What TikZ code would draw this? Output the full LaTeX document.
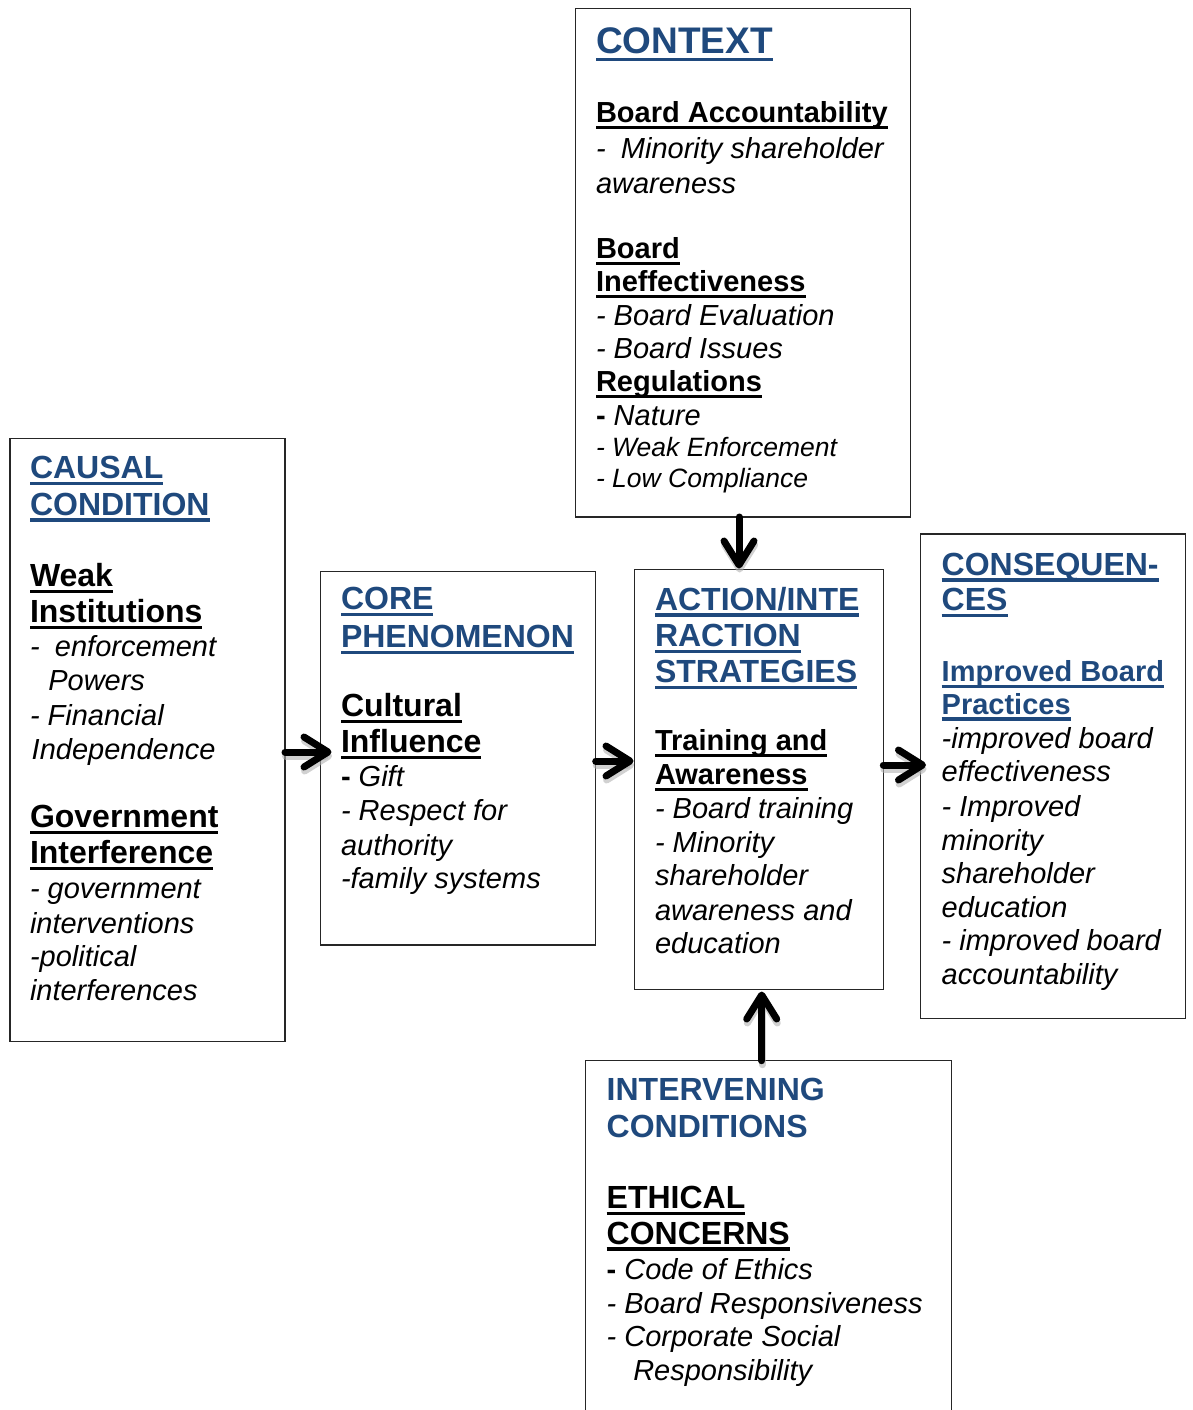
\documentclass[tikz,border=0pt]{standalone}
\usepackage{fontspec}
\setmainfont{Liberation Sans}
\usetikzlibrary{arrows.meta}
\definecolor{hblue}{HTML}{1F497D}

% heavy underline drawn as a rule under the whole word group
\newcommand\hul[2][6.5pt]{\setbox0=\hbox{#2}\rlap{\rule[-#1]{\wd0}{3.2pt}}\box0}
% headings and body styles
\newcommand\Ttl[1]{\fontsize{32}{36}\selectfont\bfseries\color{hblue}\hul{#1}}
\newcommand\TtlPlain[1]{\fontsize{32}{36}\selectfont\bfseries\color{hblue}#1}
\newcommand\Sub[2]{\fontsize{#1}{#1}\selectfont\bfseries\hul{#2}}
\newcommand\BSub[2]{\fontsize{#1}{#1}\selectfont\bfseries\color{hblue}\hul{#2}}
\newcommand\Itx[2]{\fontsize{#1}{#1}\selectfont\itshape #2}
\newcommand\Bdash{{\upshape\bfseries -}}

\newcounter{lnc}
\newcommand\Line[3]{\stepcounter{lnc}\node[txt] (line\arabic{lnc}) at (#1,#2) {#3};}

\tikzset{
  txt/.style={anchor=base west, inner sep=0pt, outer sep=0pt},
  box/.style={draw=black!85, line width=1.4pt, fill=white, rectangle,
              anchor=north west, inner sep=0pt, outer sep=0pt},
  conn/.style={line width=7pt, line cap=round,
               -{Straight Barb[length=24pt, width=30pt, round]}},
  connshadow/.style={conn, draw=gray!60, opacity=0.6,
                     transform canvas={shift={(0.6pt,-4pt)}}},
}

\begin{document}
\begin{tikzpicture}[x=1pt, y=-1pt]
\useasboundingbox (0,0) rectangle (1192,1410);
\clip (0,0) rectangle (1192,1410);

% ---- boxes ----
\node[box, minimum width=275pt, minimum height=603pt] (causal) at (10,438.5) {};
\node[box, minimum width=275pt, minimum height=373.3pt] (core) at (320.7,571.7) {};
\node[box, minimum width=335pt, minimum height=508.5pt] (context) at (575.7,8.5) {};
\node[box, minimum width=249pt, minimum height=420pt] (action) at (634.3,569.3) {};
\node[box, minimum width=264.6pt, minimum height=484.3pt] (conseq) at (920.7,534) {};
\node[box, minimum width=366pt, minimum height=370pt] (interv) at (585.7,1060.7) {};

% ---- causal condition ----
\Line{30}{478.3}{\Ttl{CAUSAL}}
\Line{30}{515}{\Ttl{CONDITION}}
\Line{30}{586.7}{\Sub{32}{Weak}}
\Line{30}{622.7}{\Sub{32}{Institutions}}
\Line{30}{656.7}{\Itx{29}{-\hspace{0.25em} enforcement}}
\Line{48.3}{690}{\Itx{29}{Powers}}
\Line{30}{725}{\Itx{29}{- Financial}}
\Line{31.7}{759}{\Itx{29}{Independence}}
\Line{30}{827.3}{\Sub{32}{Government}}
\Line{30}{863.3}{\Sub{32}{Interference}}
\Line{30}{898.3}{\Itx{29}{- government}}
\Line{30}{933.3}{\Itx{29}{interventions}}
\Line{30}{966.7}{\Itx{29}{-political}}
\Line{30}{1000}{\Itx{29}{interferences}}

% ---- core phenomenon ----
\Line{341}{609.3}{\Ttl{CORE}}
\Line{341}{647.3}{\Ttl{PHENOMENON}}
\Line{341}{716.7}{\Sub{32}{Cultural}}
\Line{341}{752.7}{\Sub{32}{Influence}}
\Line{341}{786.7}{\Itx{29}{\Bdash{} Gift}}
\Line{341}{820.7}{\Itx{29}{- Respect for}}
\Line{341}{855}{\Itx{29}{authority}}
\Line{341}{888.3}{\Itx{29}{-family systems}}

% ---- context ----
\Line{596}{54}{\fontsize{37}{42}\selectfont\bfseries\color{hblue}\hul[7.5pt]{CONTEXT}}
\Line{596}{122.3}{\Sub{29}{Board Accountability}}
\Line{596}{158}{\Itx{29}{-\hspace{0.25em} Minority shareholder}}
\Line{596}{193.2}{\Itx{29}{awareness}}
\Line{596}{258.4}{\Sub{29}{Board}}
\Line{596}{291.2}{\Sub{29}{Ineffectiveness}}
\Line{596}{325}{\Itx{29}{- Board Evaluation}}
\Line{596}{358.1}{\Itx{29}{- Board Issues}}
\Line{596}{391.9}{\Sub{29}{Regulations}}
\Line{596}{425}{\Itx{29}{\Bdash{} Nature}}
\Line{596}{456.8}{\Itx{26.5}{- Weak Enforcement}}
\Line{596}{487.2}{\Itx{26.5}{- Low Compliance}}

% ---- action / interaction strategies ----
\Line{655}{610}{\Ttl{ACTION/INTE}}
\Line{655}{646.7}{\Ttl{RACTION}}
\Line{655}{682.7}{\Ttl{STRATEGIES}}
\Line{655}{750.7}{\Sub{29}{Training and}}
\Line{655}{784.3}{\Sub{29}{Awareness}}
\Line{655}{818.3}{\Itx{29}{- Board training}}
\Line{655}{852.3}{\Itx{29}{- Minority}}
\Line{655}{885.7}{\Itx{29}{shareholder}}
\Line{655}{920}{\Itx{29}{awareness and}}
\Line{655}{953.3}{\Itx{29}{education}}

% ---- consequences ----
\Line{941.7}{575}{\Ttl{CONSEQUEN-}}
\Line{941.7}{610.7}{\Ttl{CES}}
\Line{941.7}{681.7}{\BSub{29}{Improved Board}}
\Line{941.7}{714}{\BSub{29}{Practices}}
\Line{941.7}{748.3}{\Itx{29}{-improved board}}
\Line{941.7}{781.7}{\Itx{29}{effectiveness}}
\Line{941.7}{816}{\Itx{29}{- Improved}}
\Line{941.7}{850}{\Itx{29}{minority}}
\Line{941.7}{883.3}{\Itx{29}{shareholder}}
\Line{941.7}{917.3}{\Itx{29}{education}}
\Line{941.7}{950.7}{\Itx{29}{- improved board}}
\Line{941.7}{984}{\Itx{29}{accountability}}

% ---- intervening conditions ----
\Line{606.7}{1100.7}{\TtlPlain{INTERVENING}}
\Line{606.7}{1137.3}{\TtlPlain{CONDITIONS}}
\Line{606.7}{1208.3}{\Sub{32}{ETHICAL}}
\Line{606.7}{1244}{\Sub{32}{CONCERNS}}
\Line{606.7}{1279}{\Itx{29}{\Bdash{} Code of Ethics}}
\Line{606.7}{1313.3}{\Itx{29}{- Board Responsiveness}}
\Line{606.7}{1346.7}{\Itx{29}{- Corporate Social}}
\Line{633.3}{1380}{\Itx{29}{Responsibility}}

% ---- arrow end points ----
\coordinate (tipA) at (331.5,752);
\coordinate (tipB) at (633.5,761);
\coordinate (tipC) at (926,765);
\coordinate (tipD) at (739,568.5);
\coordinate (tipE) at (761.7,991.5);

% ---- connectors: soft shadow first, then the arrow ----
\draw[connshadow] (causal.east |- tipA) -- (tipA);
\draw[connshadow] (core.east |- tipB) -- (tipB);
\draw[connshadow] (action.east |- tipC) -- (tipC);
\draw[connshadow] (context.south -| tipD) -- (tipD);
\draw[connshadow] (interv.north -| tipE) -- (tipE);

\draw[conn] (causal.east |- tipA) -- (tipA);
\draw[conn] (core.east |- tipB) -- (tipB);
\draw[conn] (action.east |- tipC) -- (tipC);
\draw[conn] (context.south -| tipD) -- (tipD);
\draw[conn] (interv.north -| tipE) -- (tipE);
\end{tikzpicture}
\end{document}
